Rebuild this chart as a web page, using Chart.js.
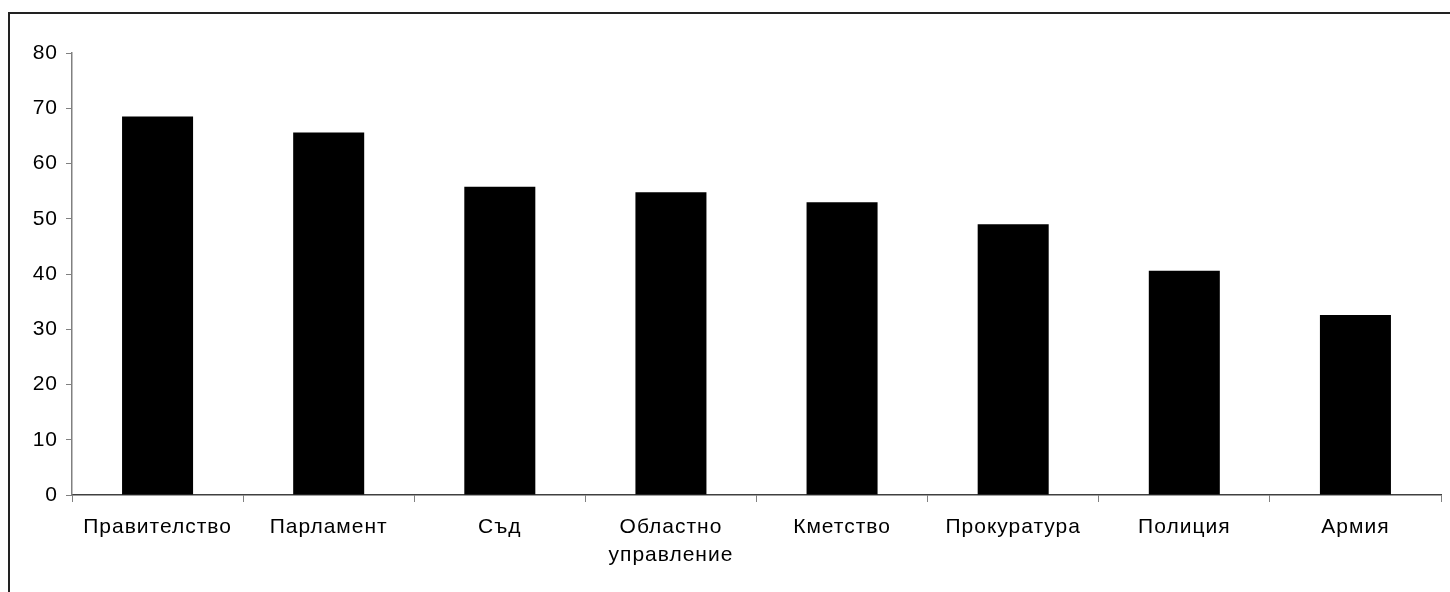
<!DOCTYPE html>
<html>
<head>
<meta charset="utf-8">
<script src="https://cdn.jsdelivr.net/npm/chart.js@4"></script>
<style>
  html, body { margin: 0; padding: 0; background: #fff; overflow: hidden; }
  #frame { position: absolute; left: 8px; top: 12px; width: 1500px; height: 700px; border: 2px solid #222; box-sizing: border-box; }
  #wrap { position: absolute; left: 0; top: 0; width: 1450px; height: 592px; }
</style>
</head>
<body>
<div id="frame"></div>
<div id="wrap"><canvas id="chart"></canvas></div>
<script>
  const categories = ['Правителство', 'Парламент', 'Съд', ['Областно', 'управление'], 'Кметство', 'Прокуратура', 'Полиция', 'Армия'];
  const values = [68.5, 65.6, 55.8, 54.8, 53.0, 49.0, 40.6, 32.6];
  const yTicks = [0, 10, 20, 30, 40, 50, 60, 70, 80];

  Chart.defaults.font.family = '"Liberation Sans", Arial, sans-serif';
  Chart.defaults.color = '#000';

  // the old chart text is spread out a little
  const spacing = {
    id: 'spacing',
    beforeLayout(chart) { chart.ctx.letterSpacing = '1px'; },
    beforeDraw(chart) { chart.ctx.letterSpacing = '1px'; }
  };

  new Chart(document.getElementById('chart'), {
    type: 'bar',
    data: {
      labels: categories,
      datasets: [{ data: values, backgroundColor: '#000', borderWidth: 0, barPercentage: 0.415, categoryPercentage: 1 }]
    },
    options: {
      responsive: true,
      maintainAspectRatio: false,
      animation: false,
      layout: { padding: { left: 0, right: 9, top: 53, bottom: 0 } },
      plugins: { legend: { display: false }, tooltip: { enabled: false } },
      scales: {
        x: {
          afterFit: s => { s.height = 97; },
          grid: { display: true, drawOnChartArea: false, offset: true, tickLength: 7, color: '#808080' },
          border: { color: '#404040', width: 1.5 },
          ticks: { font: { size: 21, lineHeight: 1.35 }, padding: 11, maxRotation: 0, autoSkip: false }
        },
        y: {
          min: 0, max: 80,
          afterFit: s => { s.width = 72; },
          afterBuildTicks: s => { s.ticks = yTicks.map(v => ({ value: v })); },
          grid: { display: true, drawOnChartArea: false, tickLength: 6, color: '#808080' },
          border: { color: '#808080', width: 1.5 },
          ticks: { font: { size: 21 }, padding: 8 }
        }
      }
    },
    plugins: [spacing]
  });
</script>
</body>
</html>
